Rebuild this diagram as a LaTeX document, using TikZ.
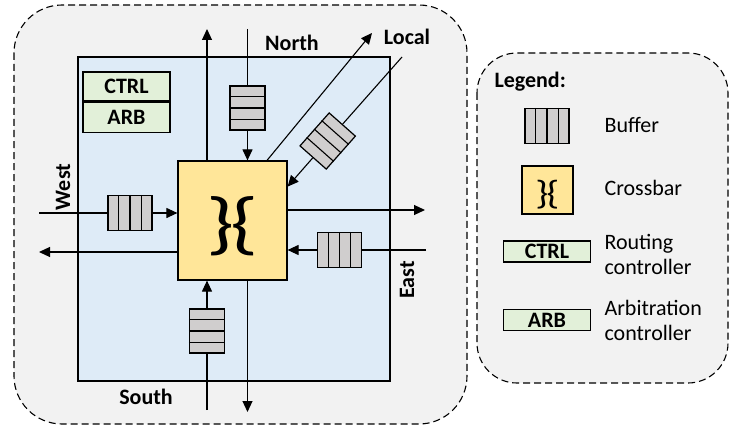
\documentclass[tikz,border=0pt]{standalone}
\usepackage{fontspec}
\usepackage{graphicx}
\setmainfont{Carlito}
\usetikzlibrary{arrows.meta,calc,positioning}
\definecolor{routerbg}{HTML}{F2F2F2}
\definecolor{corebg}{HTML}{DEEBF7}
\definecolor{xbarfill}{HTML}{FFE699}
\definecolor{ctrlfill}{HTML}{E2F0D9}
\definecolor{buffill}{HTML}{D0CECE}
\newcommand\xbarsign[3]{\fontsize{#1}{#1}\selectfont\scalebox{#2}[#3]{\}\kern-0.05em\{}}
\tikzset{
    region/.style = {
        draw, dashed, dash pattern=on 7pt off 4pt,
        fill = routerbg,
        line width = 1.1pt,
        },
    core/.style = {
        draw, fill = corebg,
        line width = 1.2pt,
        },
    crossbar/.style = {
        draw, fill = xbarfill,
        line width = 1.2pt,
        inner sep = 0pt,
        },
    ctrl/.style = {
        draw, fill = ctrlfill,
        line width = 1.2pt,
        inner sep = 0pt,
        minimum width = 87pt,
        font = \fontsize{22}{24}\selectfont\bfseries,
        },
    buf/.style = {
        draw, fill = buffill,
        line width = 1.2pt,
        inner sep = 0pt,
        minimum width = 44pt,
        minimum height = 35pt,
        transform shape,
        },
    port/.style = {
        font = \fontsize{22}{24}\selectfont\bfseries,
        },
    legend text/.style = {
        anchor = west,
        align = left,
        font = \fontsize{22}{25}\selectfont,
        },
    link/.style = {
        line width = 1.1pt,
        },
    flow/.style = {
        link,
        -{Triangle[length=11pt,width=10pt]},
        },
    buffer/.pic = {
        \node[buf] (-box) {};
        \foreach \f in {0.25,0.5,0.75}
            \draw[line width=1.1pt] ($(-box.north west)!\f!(-box.north east)$) -- ($(-box.south west)!\f!(-box.south east)$);
        },
}

\begin{document}
\begin{tikzpicture}[x=1pt, y=-1pt]
    \useasboundingbox (0,0) rectangle (729,428);

    % router
    \draw[region, rounded corners=48pt] (14,5) rectangle (467,424);
    \draw[core] (78,57) rectangle (390,381);
    \node[ctrl, minimum height=29pt] (ctrl) at (126.5,86.5) {CTRL};
    \node[ctrl, minimum height=30pt, below=0pt of ctrl] (arb) {ARB};

    \node[crossbar, minimum width=109pt, minimum height=119pt] (xb) at (232.5,220.5) {};
    \node[inner sep=0pt] (xbsign) at ([yshift=-6pt]xb.center) {\xbarsign{64}{1.4}{1.08}};

    % ports
    \coordinate (nin) at (247.5,29);
    \coordinate (nout) at (207,29);
    \coordinate (sin) at (207,410);
    \coordinate (sout) at (247.5,412);
    \coordinate (win) at (39,213);
    \coordinate (wout) at (39,252);
    \coordinate (ein) at (426,250);
    \coordinate (eout) at (425,210);
    \coordinate (lin) at (402,57);
    \coordinate (lout) at (372,33);

    \pic[rotate=90] (bn) at (247.5,108) {buffer};
    \pic[rotate=90] (bs) at (207,331) {buffer};
    \pic (bw) at (130,213) {buffer};
    \pic (be) at (339.5,250) {buffer};
    \pic[rotate=48.5] (bl) at (327.7,141) {buffer};

    \draw[link] (nin) -- (bn-box.east);
    \draw[flow] (bn-box.west) -- (xb.north -| bn-box);
    \draw[flow] ([xshift=-25.5pt]xb.north) -- (nout);

    \draw[link] (sin) -- (bs-box.west);
    \draw[flow] (bs-box.east) -- (xb.south -| bs-box);
    \draw[flow] ([xshift=15pt]xb.south) -- (sout);

    \draw[link] (win) -- (bw-box.west);
    \draw[flow] (bw-box.east) -- (xb.west |- bw-box);
    \draw[flow] ([yshift=-31.5pt]xb.west) -- (wout);

    \draw[link] (ein) -- (be-box.east);
    \draw[flow] (be-box.west) -- (xb.east |- be-box);
    \draw[flow] ([yshift=10.5pt]xb.east) -- (eout);

    \draw[link] (lin) -- (bl-box.east);
    \draw[flow] (bl-box.west) -- ($(xb.north east)!0.218!(xb.south east)$);
    \draw[flow] ([xshift=34.5pt]xb.north) -- (lout);

    \node[port] (north) at (292,43) {North};
    \node[port] (local) at (407,37) {Local};
    \node[port] (south) at (146,397) {South};
    \node[port, rotate=90] (west) at (63,187) {West};
    \node[port, rotate=90] (east) at (407,280) {East};

    % legend
    \draw[region, rounded corners=40pt] (477,53) rectangle (728,383);
    \node[port, anchor=west] (legend) at (491,82) {Legend:};
    \pic (lbuf) at (547,126) {buffer};
    \node[legend text] (lbuftext) at (601,125) {Buffer};
    \node[crossbar, minimum width=51pt, minimum height=48pt] (lxb) at (547.5,190) {};
    \node[inner sep=0pt] (lxbsign) at ([yshift=-5pt]lxb.center) {\xbarsign{32}{1.3}{1.05}};
    \node[legend text] (lxbtext) at (601,188) {Crossbar};
    \node[ctrl, minimum height=21pt] (lctrl) at (547,251.5) {CTRL};
    \node[legend text] (lctrltext) at (601,254) {Routing\\controller};
    \node[ctrl, minimum height=21pt] (larb) at (547,320) {ARB};
    \node[legend text] (larbtext) at (601,320) {Arbitration\\controller};
\end{tikzpicture}
\end{document}
